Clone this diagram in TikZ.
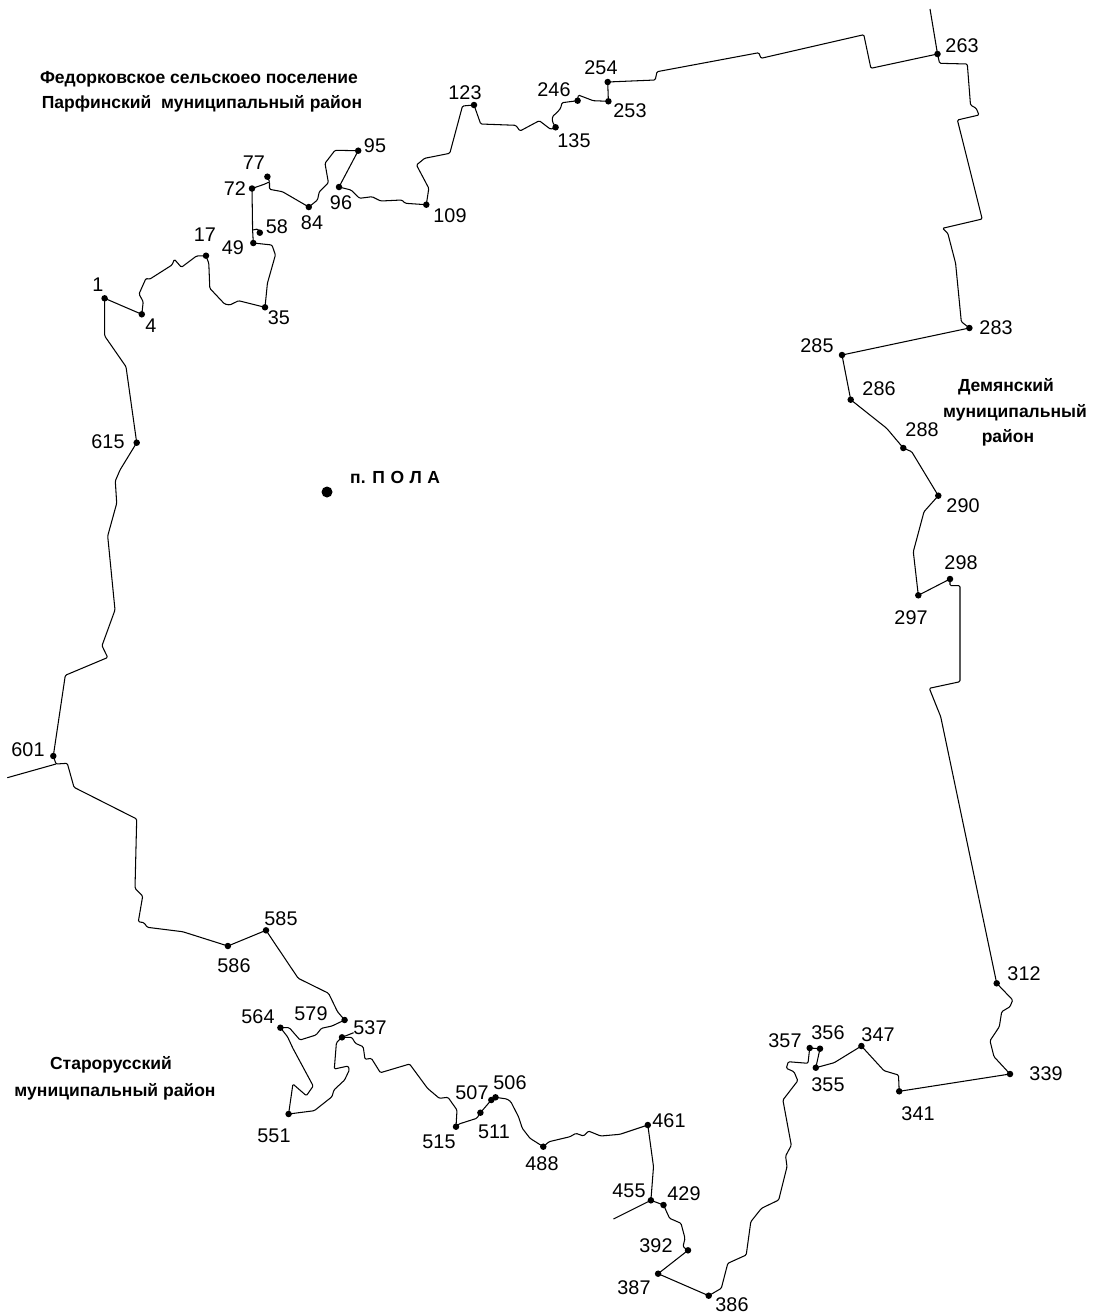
\documentclass[tikz,border=0pt]{standalone}
\usepackage{fontspec}
\setmainfont{Liberation Sans}
\usetikzlibrary{positioning}
\tikzset{
  border/.style={line width=1.05pt, line join=round, rounded corners=1.2pt},
  pnt/.style={circle, fill=black, inner sep=0pt, minimum size=6.5pt},
  num/.style={font=\fontsize{19.8}{21}\selectfont, inner sep=0pt, yshift=-0.7pt},
  area/.style={font=\fontsize{17.5}{19}\selectfont\bfseries, inner sep=0pt},
}
\begin{document}
\begin{tikzpicture}[x=1pt,y=-1pt]
        \useasboundingbox (0,0) rectangle (1096,1315);
        % points of the border
        \node[pnt] (p1) at (104.6,298.3) {};
        \node[pnt] (p4) at (141.8,314.3) {};
        \node[pnt] (p17) at (206,255.7) {};
        \node[pnt] (p35) at (265,307.3) {};
        \node[pnt] (p49) at (253.3,243) {};
        \node[pnt] (p58) at (259.8,232.7) {};
        \node[pnt] (p72) at (252,188.5) {};
        \node[pnt] (p77) at (267.4,176.7) {};
        \node[pnt] (p84) at (308.8,207) {};
        \node[pnt] (p95) at (358.2,150.7) {};
        \node[pnt] (p96) at (339,187) {};
        \node[pnt] (p109) at (426.3,204.7) {};
        \node[pnt] (p123) at (474,105) {};
        \node[pnt] (p135) at (555.6,127.3) {};
        \node[pnt] (p246) at (577.6,100.7) {};
        \node[pnt] (p253) at (608.4,101.3) {};
        \node[pnt] (p254) at (607.7,82) {};
        \node[pnt] (p263) at (937.5,54) {};
        \node[pnt] (p283) at (969.4,328) {};
        \node[pnt] (p285) at (842,355) {};
        \node[pnt] (p286) at (850.7,399.7) {};
        \node[pnt] (p288) at (903.3,448) {};
        \node[pnt] (p290) at (938.3,495.7) {};
        \node[pnt] (p297) at (918.3,595.3) {};
        \node[pnt] (p298) at (950,579) {};
        \node[pnt] (p312) at (996.7,983.3) {};
        \node[pnt] (p339) at (1010,1074) {};
        \node[pnt] (p341) at (899.2,1091.3) {};
        \node[pnt] (p347) at (861.4,1046) {};
        \node[pnt] (p355) at (815.8,1067.7) {};
        \node[pnt] (p356) at (820,1048.7) {};
        \node[pnt] (p357) at (809.7,1048) {};
        \node[pnt] (p386) at (708.7,1295.7) {};
        \node[pnt] (p387) at (658.1,1273.7) {};
        \node[pnt] (p392) at (688,1250.3) {};
        \node[pnt] (p429) at (663.5,1205) {};
        \node[pnt] (p455) at (650.9,1200.3) {};
        \node[pnt] (p461) at (647.8,1125) {};
        \node[pnt] (p488) at (543.3,1146.7) {};
        \node[pnt] (p506) at (495.5,1097.3) {};
        \node[pnt] (p507) at (491.3,1100) {};
        \node[pnt] (p511) at (480.4,1112.7) {};
        \node[pnt] (p515) at (456,1126.7) {};
        \node[pnt] (p537) at (342,1037.3) {};
        \node[pnt] (p536) at (344.6,1020) {};
        \node[pnt] (p551) at (288.6,1114) {};
        \node[pnt] (p564) at (280.4,1027.7) {};
        \node[pnt] (p585) at (266,930.3) {};
        \node[pnt] (p586) at (227.9,946) {};
        \node[pnt] (p601) at (53.3,756) {};
        \node[pnt] (p615) at (136.7,442.7) {};
        \coordinate (north) at (930,9);
        \coordinate (west) at (7.3,777.7);
        \coordinate (south) at (613.4,1219);
        % border, north side
        \draw[border] (p1.center) -- (p4.center) -- (143.2,301.7) -- (139,294) -- (146,278.3) -- (149.5,279.3) -- (172,265) -- (174.4,259.3) -- (181.4,267.3) -- (196.5,256) -- (p17.center)
          -- (208.8,263.3) -- (209.8,288.3) -- (224.6,304) -- (229.8,305) -- (238.6,300.7) -- (p35.center)
          -- (267.4,283.3) -- (275.4,255) -- (272,245) -- (p49.center) -- (252.6,230) -- (p72.center)
          -- (265,184) -- (269.5,181.7) -- (269.5,189.3) -- (282.5,191.7) -- (p84.center)
          -- (317.5,200) -- (319.3,191.7) -- (328.4,182.7) -- (325,163.3) -- (335,150.3) -- (p95.center) -- (p96.center)
          -- (351,190) -- (359.6,198.3) -- (372,196.7) -- (380.7,201) -- (401.8,200) -- (405.3,203.3) -- (p109.center)
          -- (428.8,188.3) -- (416.5,165) -- (424.6,158.3) -- (449.8,153.3) -- (462.5,106) -- (p123.center)
          -- (480.7,124) -- (515.8,125.3) -- (520,131) -- (539.3,120.7) -- (550.6,129.3) -- (p135.center)
          -- (552.4,121.7) -- (552.4,116.7) -- (557.7,111.7) -- (560.6,108.3) -- (562,102.7) -- (p246.center) -- (578.3,95) -- (593.2,100.7) -- (p253.center) -- (p254.center)
          -- (655.2,80) -- (657,71.7) -- (758.8,52.7) -- (761,58.3) -- (863.8,34.7) -- (870.9,68.3) -- (p263.center);
        \draw[border] (252.6,230) -- (258,229) -- (p58.center);
        \draw[border] (269.5,181.7) -- (p77.center);
        \draw[border] (north) -- (p263.center);
        % border, east side
        \draw[border] (p263.center) -- (939.6,63.3) -- (967.3,64) -- (970.5,105) -- (976.2,108.3) -- (979,115) -- (957.4,120) -- (982.2,219) -- (942.5,228.3) -- (947.8,233.3) -- (955.6,263.3) -- (961.3,321.7) -- (p283.center)
          -- (p285.center) -- (p286.center) -- (886.7,428.3) -- (p288.center) -- (911.7,451.7) -- (p290.center)
          -- (924,511.7) -- (913.3,551.7) -- (p297.center) -- (p298.center) -- (950,585.7) -- (960,585.7) -- (960,681.7) -- (929.3,688.3) -- (940.7,716.7) -- (p312.center)
          -- (1012.7,1000) -- (1010,1006.7) -- (1001.7,1011.7) -- (999.3,1026.7) -- (990,1040.7) -- (994,1056.7) -- (p339.center);
        % border, south side
        \draw[border] (p339.center) -- (p341.center) -- (898.5,1075) -- (884,1070.7) -- (p347.center) -- (834.2,1062.7) -- (p355.center) -- (p356.center) -- (p357.center)
          -- (808,1063.3) -- (788.3,1061.7) -- (786.3,1068.3) -- (794,1071.7) -- (797.8,1080.7) -- (782.9,1100) -- (791.3,1145.3) -- (785.6,1156) -- (787,1166.7) -- (778.7,1200) -- (761.5,1208.3) -- (750.8,1221.7) -- (746.2,1255) -- (727.8,1263.3) -- (721.3,1288.3) -- (p386.center)
          -- (p387.center) -- (p392.center) -- (683,1246.7) -- (685,1238.3) -- (681,1223.3) -- (669.6,1218.3) -- (p429.center) -- (p455.center)
          -- (653.5,1166.7) -- (p461.center) -- (619.9,1134.3) -- (600.7,1136) -- (588.5,1131) -- (583.5,1136) -- (575.9,1133.3) -- (570,1136.7) -- (549,1141.7) -- (p488.center)
          -- (530,1138.3) -- (522.3,1128.3) -- (518.5,1116.7) -- (510.8,1101.7) -- (507,1099) -- (p506.center) -- (p507.center) -- (p511.center) -- (476.8,1118.3) -- (458.9,1124) -- (p515.center)
          -- (457,1110) -- (448,1097.3) -- (439.3,1098.3) -- (427.5,1088.3) -- (409.6,1064) -- (380.4,1072.7) -- (371.4,1058.3) -- (365,1059.3) -- (363.2,1046.7) -- (355.4,1043.3) -- (351.8,1037.3) -- (p537.center)
          -- (336.4,1042.7) -- (334.3,1069) -- (348.2,1066) -- (349.3,1070) -- (344.6,1080) -- (333.9,1090) -- (332,1096.7) -- (314.3,1110.7) -- (p551.center)
          -- (292.9,1084) -- (306.4,1095.7) -- (313.2,1086) -- (292.9,1048.3) -- (287.5,1036.7) -- (p564.center)
          -- (289.3,1027.7) -- (300,1040) -- (316,1035) -- (321.4,1028.3) -- (332,1026) -- (p536.center)
          -- (337.5,1011.7) -- (328.6,993.3) -- (298.2,978.3) -- (p585.center) -- (p586.center);
        \draw[border] (p537.center) -- (353.6,1032.7);
        \draw[border] (p455.center) -- (south);
        % border, west side
        \draw[border] (p586.center) -- (182.7,931.7) -- (147.3,927.3) -- (144,922.7) -- (138.3,921.7) -- (142.7,896) -- (135,888.3) -- (136.7,819) -- (74,787.3) -- (67.3,763.3) -- (56,764) -- (p601.center)
          -- (65.3,675.3) -- (107.7,657.5) -- (102,645.7) -- (115,610) -- (107.7,536) -- (116.7,503.3) -- (115.3,481) -- (120,470) -- (p615.center) -- (126,366.7) -- (104.7,336) -- (p1.center);
        \draw[border] (56,764) -- (west);
        % numbers
        \node[num] (l1) at (98,284) {1};
        \node[num] (l4) at (151,325) {4};
        \node[num] (l17) at (205,234) {17};
        \node[num] (l35) at (279,317) {35};
        \node[num] (l49) at (233,247) {49};
        \node[num] (l58) at (277,226) {58};
        \node[num] (l72) at (235,188) {72};
        \node[num] (l77) at (254,162) {77};
        \node[num] (l84) at (312,222) {84};
        \node[num] (l95) at (375,145) {95};
        \node[num] (l96) at (341,202) {96};
        \node[num] (l109) at (450,215) {109};
        \node[num] (l123) at (465,92) {123};
        \node[num] (l135) at (574,140) {135};
        \node[num] (l246) at (554,89) {246};
        \node[num] (l254) at (601,67) {254};
        \node[num] (l253) at (630,110) {253};
        \node[num] (l263) at (962,45) {263};
        \node[num] (l283) at (996,327) {283};
        \node[num] (l285) at (817,345) {285};
        \node[num] (l286) at (879,388) {286};
        \node[num] (l288) at (922,429) {288};
        \node[num] (l290) at (963,505) {290};
        \node[num] (l298) at (961,562) {298};
        \node[num] (l297) at (911,617) {297};
        \node[num] (l312) at (1024,973) {312};
        \node[num] (l339) at (1046,1073) {339};
        \node[num] (l341) at (918,1113) {341};
        \node[num] (l347) at (878,1034) {347};
        \node[num] (l356) at (828,1032) {356};
        \node[num] (l357) at (785,1040) {357};
        \node[num] (l355) at (828,1084) {355};
        \node[num] (l386) at (732,1304) {386};
        \node[num] (l387) at (634,1287) {387};
        \node[num] (l392) at (656,1245) {392};
        \node[num] (l429) at (684,1193) {429};
        \node[num] (l455) at (629,1190) {455};
        \node[num] (l461) at (669,1120) {461};
        \node[num] (l488) at (542,1163) {488};
        \node[num] (l506) at (510,1082) {506};
        \node[num] (l507) at (472,1092) {507};
        \node[num] (l511) at (494,1131) {511};
        \node[num] (l515) at (439,1141) {515};
        \node[num] (l537) at (370,1027) {537};
        \node[num] (l551) at (274,1135) {551};
        \node[num] (l564) at (258,1016) {564};
        \node[num] (l579) at (311,1013) {579};
        \node[num] (l585) at (281,918) {585};
        \node[num] (l586) at (234,965) {586};
        \node[num] (l601) at (28,749) {601};
        \node[num] (l615) at (108,441) {615};
        % neighbouring areas
        \node[area] (fed) at (199,79) {Федорковское сельскоео поселение};
        \node[area] (par) at (202,104) {Парфинский\ \ муниципальный район};
        \node[area] (sta) at (111,1065) {Старорусский};
        \node[area] (stb) at (115,1092) {муниципальный район};
        \node[area] (dea) at (1006,387) {Демянский};
        \node[area] (deb) at (1015,413) {муниципальный};
        \node[area] (dec) at (1008,438) {район};
        % settlement
        \node[circle, fill=black, inner sep=0pt, minimum size=11pt] (pola) at (327,492) {};
        \node[area, anchor=west] (polatxt) at (350,477) {п.\kern2pt\ П\kern5.5pt О\kern5.5pt Л\kern5.5pt А};
      \end{tikzpicture}
\end{document}
